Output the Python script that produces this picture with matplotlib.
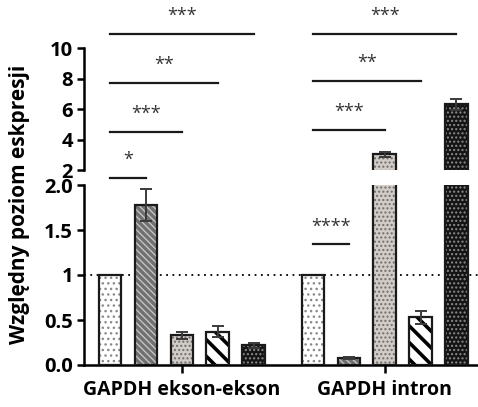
import numpy as np
import matplotlib
matplotlib.use('Agg')
import matplotlib.pyplot as plt

plt.rcParams['font.family'] = ['Open Sans', 'DejaVu Sans']

# Data
groups = ['GAPDH ekson-ekson', 'GAPDH intron']
values_exon = [1.0, 1.78, 0.33, 0.37, 0.22]
errors_exon = [0.0, 0.18, 0.04, 0.06, 0.03]
values_intron = [1.0, 0.08, 3.03, 0.53, 6.31]
errors_intron = [0.0, 0.01, 0.17, 0.07, 0.35]
bottom_ticks = [0, 0.5, 1, 1.5, 2]
bottom_labels = ['0.0', '0.5', '1', '1.5', '2.0']
top_ticks = [2, 4, 6, 8, 10]

# significance: (bar_from, bar_to, level, label)
sig_exon = [(0, 1, 1.48, '*'), (0, 2, 4.49, '***'), (0, 3, 7.70, '**'), (0, 4, 10.92, '***')]
sig_intron_top = [(0, 2, 4.62, '***'), (0, 3, 7.84, '**'), (0, 4, 10.92, '***')]
sig_intron_bottom = [(0, 1, 1.34, '****')]

# bar styles: face, hatch, hatch colour, hatch width
styles = [
    ('white', '...', '#8a8a8a', 1.0),
    ('#707070', '\\\\\\\\\\', '#c4c4c4', 1.0),
    ('#d2ccc7', '....', '#6e6e6e', 1.0),
    ('white', '\\\\', 'black', 2.6),
    ('#141414', '....', '#8c8c8c', 1.0),
]

group_gap = 5.65
width = 0.62
x_exon = np.arange(5)
x_intron = np.arange(5) + group_gap
xlim = (-0.72, 10.25)

fig = plt.figure(figsize=(4.78, 4.07), dpi=100)
left = 84 / 478
ax_bot = fig.add_axes([left, 42 / 407, 1 - left, 180 / 407])
ax_top = fig.add_axes([left, 237 / 407, 1 - left, 122 / 407])


def draw_bars(ax, xs, vals, errs, ymin):
    for i, (x, v, e) in enumerate(zip(xs, vals, errs)):
        face, hatch, hcol, hlw = styles[i]
        plt.rcParams['hatch.linewidth'] = hlw
        b = ax.bar(x, v, width=width, color=face, hatch=hatch, edgecolor=hcol,
                   linewidth=0, zorder=2)
        for p in b:
            if hasattr(p, 'set_hatch_linewidth'):
                p.set_hatch_linewidth(hlw)
        ax.bar(x, v, width=width, color='none', edgecolor='#1a1a1a',
               linewidth=1.6, zorder=3)
        if e > 0 and v > ymin:
            ax.errorbar(x, v, yerr=e, fmt='none', ecolor='#3a3a3a', elinewidth=1.4,
                        capsize=4, capthick=1.4, zorder=4)


for ax, ymin in ((ax_bot, 0), (ax_top, 2)):
    draw_bars(ax, x_exon, values_exon, errors_exon, ymin)
    draw_bars(ax, x_intron, values_intron, errors_intron, ymin)
    ax.set_xlim(*xlim)
    ax.spines['top'].set_visible(False)
    ax.spines['right'].set_visible(False)
    ax.spines['left'].set_linewidth(1.8)
    ax.spines['bottom'].set_linewidth(1.8)
    ax.tick_params(axis='y', length=5, width=1.8, pad=3)

ax_bot.set_ylim(0, 2.0)
ax_bot.set_yticks(bottom_ticks)
ax_bot.set_yticklabels(bottom_labels, fontweight='bold', fontsize=14.5)
ax_bot.axhline(1, color='black', linestyle=(0, (1, 2.5)), linewidth=1.3, zorder=1)
ax_bot.set_xticks([x_exon[2], x_intron[2]])
ax_bot.set_xticklabels(groups, fontweight='bold', fontsize=14)
ax_bot.tick_params(axis='x', length=6, width=1.8, pad=5)

ax_top.set_ylim(2, 10)
ax_top.set_yticks(top_ticks)
ax_top.set_yticklabels([str(t) for t in top_ticks], fontweight='bold', fontsize=14.5)
ax_top.spines['bottom'].set_visible(False)
ax_top.set_xticks([])


def draw_sig(ax, xs, sigs):
    for a, b, y, lab in sigs:
        ax.plot([xs[a], xs[b]], [y, y], color='#1a1a1a', linewidth=1.6,
                clip_on=False, zorder=5)
        ax.annotate(lab, xy=((xs[a] + xs[b]) / 2, y), xytext=(0, 13),
                    textcoords='offset points', ha='center', va='center',
                    fontsize=13, color='#333333', annotation_clip=False)


draw_sig(ax_top, x_exon, sig_exon)
draw_sig(ax_top, x_intron, sig_intron_top)
draw_sig(ax_bot, x_intron, sig_intron_bottom)

fig.text(20 / 478, 203 / 407, 'Względny poziom eskpresji', rotation=90,
         ha='center', va='center', fontsize=15, fontweight='bold')

fig.savefig('out.png', dpi=100)
